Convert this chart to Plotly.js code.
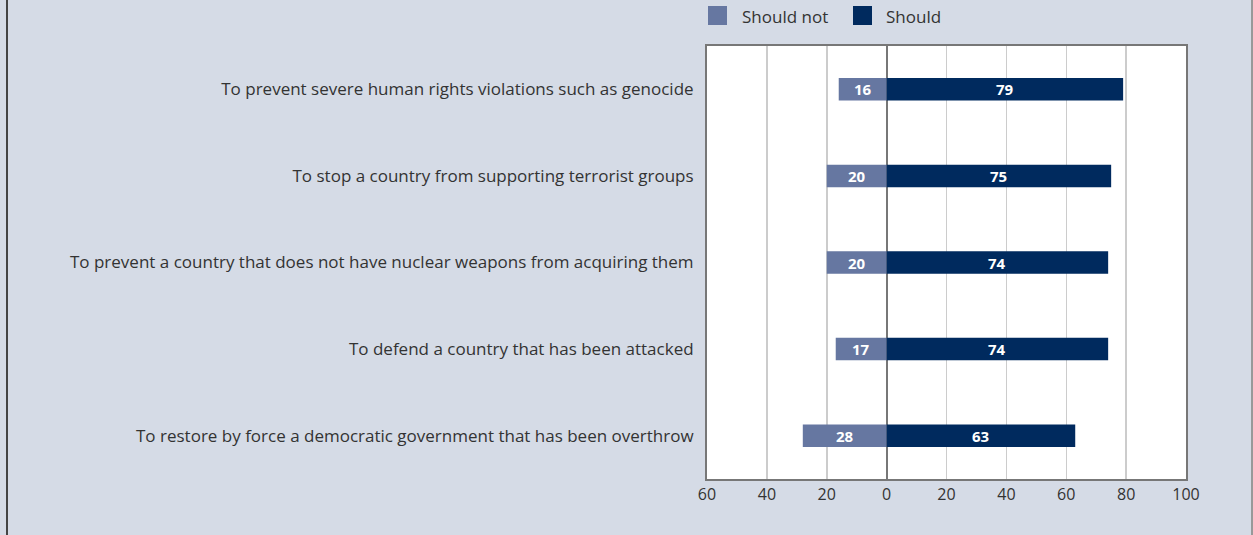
<!DOCTYPE html>
<html>
<head>
<meta charset="utf-8">
<script src="https://cdn.plot.ly/plotly-3.0.1.min.js"></script>
<style>
html,body{margin:0;padding:0;background:#d5dbe6;}
#chart{width:1253px;height:535px;}
</style>
</head>
<body>
<div id="chart"></div>
<script>
const categories = [
  "To prevent severe human rights violations such as genocide",
  "To stop a country from supporting terrorist groups",
  "To prevent a country that does not have nuclear weapons from acquiring them",
  "To defend a country that has been attacked",
  "To restore by force a democratic government that has been overthrow"
];
const shouldNot = [16, 20, 20, 17, 28];
const should = [79, 75, 74, 74, 63];
const tickVals = [-60, -40, -20, 0, 20, 40, 60, 80, 100];
const tickLabels = ["60", "40", "20", "0", "20", "40", "60", "80", "100"];
const seriesNames = ["Should not", "Should"];
const seriesColors = ["#6677a1", "#002a5e"];

const FONT = "'Open Sans', Lato, sans-serif";
const L = 707, R = 1186, T = 46, B = 479;
const px = x => (x - L) / (R - L);
const py = y => (B - y) / (B - T);

const traces = [
  {
    type: "bar", orientation: "h", name: seriesNames[0],
    y: categories, x: shouldNot.map(v => -v),
    marker: {color: seriesColors[0]}, width: 0.26, hoverinfo: "skip"
  },
  {
    type: "bar", orientation: "h", name: seriesNames[1],
    y: categories, x: should,
    marker: {color: seriesColors[1]}, width: 0.26, hoverinfo: "skip"
  }
];

const legendSquares = [[708, 727], [853, 872]];
const legendTextX = [740, 884];

const shapes = [
  {type: "line", xref: "paper", yref: "paper", x0: px(7), x1: px(7),
   y0: py(540), y1: py(-5), line: {color: "#444444", width: 2}},
  {type: "line", xref: "paper", yref: "paper", x0: px(1252), x1: px(1252),
   y0: py(540), y1: py(-5), line: {color: "#999999", width: 2}}
];
const annotations = [];
seriesNames.forEach((n, i) => {
  shapes.push({type: "rect", xref: "paper", yref: "paper",
    x0: px(legendSquares[i][0]), x1: px(legendSquares[i][1]), y0: py(25), y1: py(6),
    line: {width: 0}, fillcolor: seriesColors[i]});
  annotations.push({xref: "paper", yref: "paper", x: px(legendTextX[i]), y: py(16),
    xanchor: "left", yanchor: "middle", text: n, showarrow: false,
    font: {size: 17, color: "#333333", family: FONT}});
});
const labelFont = {size: 15, color: "#ffffff", family: FONT, weight: "bold"};
categories.forEach((c, i) => {
  annotations.push({xref: "x", yref: "y", x: -shouldNot[i] / 2, y: c, text: String(shouldNot[i]),
    showarrow: false, xanchor: "center", yanchor: "middle", font: labelFont});
  annotations.push({xref: "x", yref: "y", x: should[i] / 2, y: c, text: String(should[i]),
    showarrow: false, xanchor: "center", yanchor: "middle", font: labelFont});
});

const layout = {
  width: 1253, height: 535,
  paper_bgcolor: "#d5dbe6", plot_bgcolor: "#ffffff",
  margin: {l: L, r: 1253 - R, t: T, b: 535 - B},
  barmode: "relative",
  font: {family: FONT, size: 16, color: "#333333"},
  showlegend: false,
  xaxis: {
    range: [-60, 100], tickmode: "array", tickvals: tickVals, ticktext: tickLabels,
    showgrid: true, gridcolor: "#cccccc", gridwidth: 1.5,
    zeroline: true, zerolinecolor: "#777777", zerolinewidth: 2,
    showline: true, mirror: true, linecolor: "#777777", linewidth: 2,
    ticks: "", tickfont: {size: 16, color: "#333333"}, fixedrange: true
  },
  yaxis: {
    autorange: "reversed", showgrid: false, zeroline: false,
    showline: true, mirror: true, linecolor: "#777777", linewidth: 2,
    ticks: "", ticklabelstandoff: 8, tickfont: {size: 17, color: "#333333"}, fixedrange: true
  },
  shapes: shapes,
  annotations: annotations
};

Plotly.newPlot("chart", traces, layout, {displayModeBar: false, staticPlot: true});
</script>
</body>
</html>
